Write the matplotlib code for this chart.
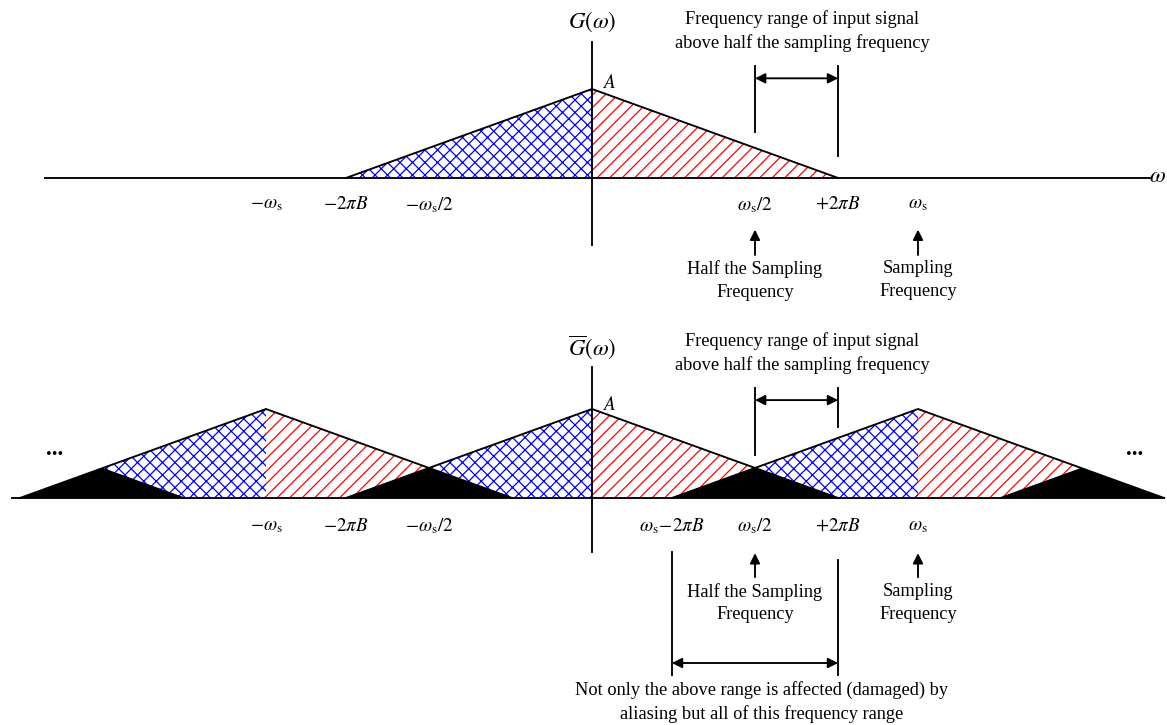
import numpy as np
import matplotlib.pyplot as plt

# spectrum parameters, in units of the sampling frequency
ws = 1.0          # omega_s
band = 0.755      # 2*pi*B
amp = 1.0         # A

top_copies = [0]
bot_copies = [-1, 0, 1]
alias_pairs = [(-2, -1), (-1, 0), (0, 1), (1, 2)]

top_ticks = [-ws, -band, -ws / 2, ws / 2, band, ws]
top_labels = [r'$-\omega_{\rm s}$', r'$-2\pi B$', r'$-\omega_{\rm s}/2$',
              r'$\omega_{\rm s}/2$', r'$+2\pi B$', r'$\omega_{\rm s}$']
bot_ticks = [-ws, -band, -ws / 2, ws - band, ws / 2, band, ws]
bot_labels = [r'$-\omega_{\rm s}$', r'$-2\pi B$', r'$-\omega_{\rm s}/2$',
              r'$\omega_{\rm s}\!-\!2\pi B$', r'$\omega_{\rm s}/2$',
              r'$+2\pi B$', r'$\omega_{\rm s}$']

plt.rcParams['font.family'] = ['Liberation Serif', 'DejaVu Serif']
plt.rcParams['mathtext.fontset'] = 'stix'
plt.rcParams['hatch.linewidth'] = 0.6

W, H, DPI = 1167, 725, 150
fig = plt.figure(figsize=(W / DPI, H / DPI), dpi=DPI)
ax_top = fig.add_axes([0, 1 - 320 / H, 1, 320 / H])
ax_bot = fig.add_axes([0, 0, 1, 405 / H])

xlim = (-592 / 326, 575 / 326)
ax_top.set_xlim(xlim)
ax_top.set_ylim(-142 / 89, 2.0)
ax_bot.set_xlim(xlim)
ax_bot.set_ylim(-227 / 89, 2.0)
for ax in (ax_top, ax_bot):
    ax.axis('off')

LW = 0.9
FS = 8.8
MFS = 9.2
LS = 1.45


def spectrum(ax, k):
    c = k * ws
    ax.fill_between([c - band, c], [0, amp], 0, facecolor='none',
                    edgecolor='blue', hatch='xxxx', lw=0, zorder=1)
    ax.fill_between([c, c + band], [amp, 0], 0, facecolor='none',
                    edgecolor='red', hatch='////', lw=0, zorder=1)
    ax.plot([c - band, c, c + band], [0, amp, 0], color='k', lw=LW,
            zorder=3, solid_joinstyle='miter')


def alias(ax, k1, k2):
    lo = k2 * ws - band
    hi = k1 * ws + band
    mid = (k1 + k2) / 2 * ws
    h = amp * (1 - (ws / 2) / band)
    ax.fill([lo, mid, hi], [0, h, 0], color='k', lw=0, zorder=2)


def arrow(ax, x0, y0, x1, y1, style='-|>'):
    ax.annotate('', xy=(x1, y1), xytext=(x0, y0),
                arrowprops=dict(arrowstyle=style, color='k', lw=LW,
                                mutation_scale=10, shrinkA=0, shrinkB=0))


def ticklabels(ax, ticks, labels, y):
    for t, s in zip(ticks, labels):
        ax.text(t, y, s, ha='center', va='center', fontsize=MFS)


def sampling_notes(ax, y0, y1, ytxt):
    arrow(ax, ws / 2, y0, ws / 2, y1)
    arrow(ax, ws, y0, ws, y1)
    ax.text(ws / 2, ytxt, 'Half the Sampling\nFrequency', ha='center',
            va='center', fontsize=FS, linespacing=LS)
    ax.text(ws, ytxt, 'Sampling\nFrequency', ha='center', va='center',
            fontsize=FS, linespacing=LS)


def range_note(ax, ytxt, ytop, yarr, yl_end, yr_end):
    ax.text(0.644, ytxt,
            'Frequency range of input signal\nabove half the sampling frequency',
            ha='center', va='center', fontsize=FS, linespacing=LS)
    ax.plot([ws / 2, ws / 2], [ytop, yl_end], color='k', lw=LW)
    ax.plot([band, band], [ytop, yr_end], color='k', lw=LW)
    arrow(ax, ws / 2, yarr, band, yarr, '<|-|>')


# ---- top: original spectrum ----
for k in top_copies:
    spectrum(ax_top, k)
ax_top.plot([-1.678, 1.712], [0, 0], color='k', lw=LW, zorder=3)
ax_top.plot([0, 0], [-0.75, 1.53], color='k', lw=LW, zorder=3)
ax_top.text(0, 1.75, r'$G(\omega)$', ha='center', va='center', fontsize=11)
ax_top.text(1.735, 0.02, r'$\omega$', ha='center', va='center', fontsize=11)
ax_top.text(0.055, 1.07, r'$A$', ha='center', va='center', fontsize=MFS)
ticklabels(ax_top, top_ticks, top_labels, -0.30)
sampling_notes(ax_top, -0.865, -0.58, -1.15)
range_note(ax_top, 1.655, 1.26, 1.12, 0.517, 0.247)

# ---- bottom: sampled spectrum with aliasing ----
for k in bot_copies:
    spectrum(ax_bot, k)
for k1, k2 in alias_pairs:
    alias(ax_bot, k1, k2)
ax_bot.plot([-1.779, 1.755], [0, 0], color='k', lw=LW, zorder=3)
ax_bot.plot([0, 0], [-0.607, 1.47], color='k', lw=LW, zorder=3)
ax_bot.text(0, 1.685, r'$\overline{G}(\omega)$', ha='center', va='center',
            fontsize=11)
ax_bot.text(0.055, 1.045, r'$A$', ha='center', va='center', fontsize=MFS)
ax_bot.text(-1.647, 0.55, '...', ha='center', va='center', fontsize=11,
            fontweight='bold')
ax_bot.text(1.666, 0.55, '...', ha='center', va='center', fontsize=11,
            fontweight='bold')
ticklabels(ax_bot, bot_ticks, bot_labels, -0.315)
sampling_notes(ax_bot, -0.89, -0.62, -1.18)
range_note(ax_bot, 1.625, 1.236, 1.10, 0.483, 0.80)

# aliased band: from ws - 2piB up to 2piB
ax_bot.plot([ws - band, ws - band], [-0.607, -1.99], color='k', lw=LW)
ax_bot.plot([band, band], [-0.70, -1.99], color='k', lw=LW)
arrow(ax_bot, ws - band, -1.854, band, -1.854, '<|-|>')
ax_bot.text(0.52, -2.29,
            'Not only the above range is affected (damaged) by\n'
            'aliasing but all of this frequency range',
            ha='center', va='center', fontsize=FS, linespacing=LS)

fig.savefig('out.png', dpi=DPI, facecolor='white')
